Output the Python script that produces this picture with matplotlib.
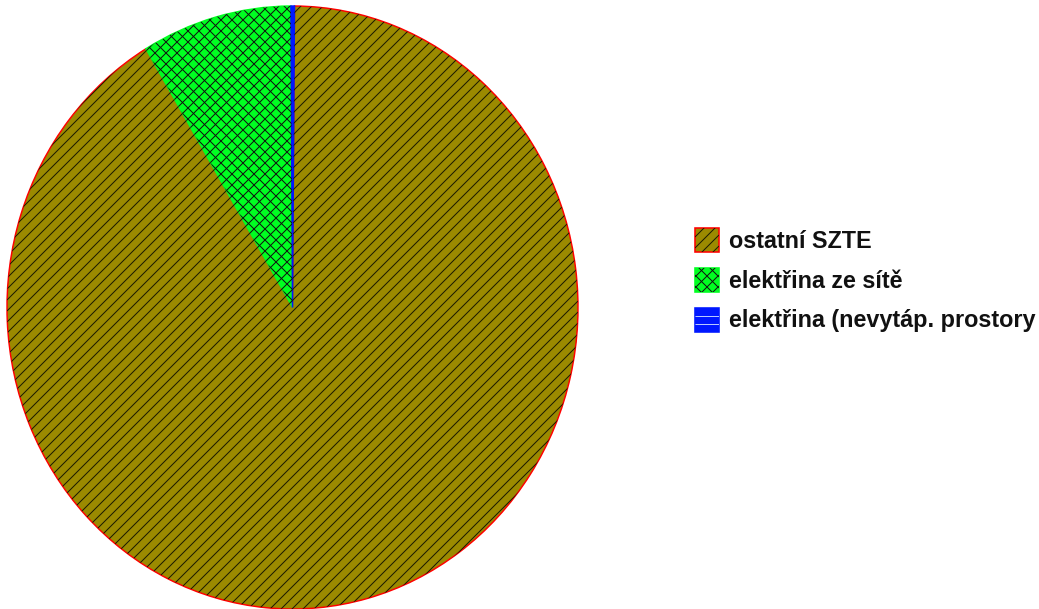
import numpy as np
import matplotlib
matplotlib.use("Agg")
import matplotlib.pyplot as plt
from matplotlib.patches import Rectangle
from matplotlib.collections import LineCollection
from matplotlib.transforms import IdentityTransform

# data
labels = ["ostatní SZTE", "elektřina ze sítě", "elektřina (nevytáp. prostory"]
shares = [91.3, 8.5, 0.2]

# style
faces = ["#9b8a00", "#00ff21", "#0017ff"]
edges = ["#ff0000", "#00ff21", "#0017ff"]
hatches = ["/", "x", "-"]
hatch_cols = ["#1a1a00", "#101010", "#b8c8ff"]

DPI = 66
W, H = 1039, 609
plt.rcParams["font.family"] = ["Liberation Sans", "DejaVu Sans"]


def hatch_segments(x0, y0, x1, y1, kind, step, off=0.0):
    # hatch lines in display pixels covering the box (x0, y0)-(x1, y1)
    segs = []
    if kind in ("/", "x"):
        for c in np.arange(y0 - x1 + off, y1 - x0 + step, step):
            segs.append([(x0, x0 + c), (x1, x1 + c)])
    if kind in ("\\", "x"):
        for c in np.arange(y0 + x0 + off, y1 + x1 + step, step):
            segs.append([(x0, c - x0), (x1, c - x1)])
    if kind == "-":
        for c in np.arange(y0 + off, y1, step):
            segs.append([(x0, c), (x1, c)])
    return segs


def add_hatch(fig, clip, box, kind, color, step, off=0.0):
    lc = LineCollection(hatch_segments(*box, kind, step, off), colors=color,
                        linewidths=72 / DPI, transform=IdentityTransform(),
                        zorder=5)
    fig.add_artist(lc)
    lc.set_clip_path(clip)


fig = plt.figure(figsize=(W / DPI, H / DPI), dpi=DPI, facecolor="white")
# pie is slightly taller than wide in the reference
ax = fig.add_axes([7 / W, 1 - 609 / H, 571 / W, 603 / H])

wedges, _ = ax.pie(shares, colors=faces, startangle=89.6, counterclock=False,
                   radius=1, frame=True, wedgeprops=dict(linewidth=1.6))
ax.set_aspect("auto")
ax.set_xlim(-1, 1)
ax.set_ylim(-1, 1)
ax.set_axis_off()

fig.canvas.draw()
bb = ax.bbox
for w, ec, ht, hc in zip(wedges, edges, hatches, hatch_cols):
    w.set_edgecolor(ec)
    if ht != "-":
        add_hatch(fig, w, (bb.x0, bb.y0, bb.x1, bb.y1), ht, hc, 11)

# legend drawn by hand so the hatches match
fs_px = 23.4
row_y = 240
row_gap = 40
box = 24
for i, (lab, fc, ec, ht, hc) in enumerate(zip(labels, faces, edges, hatches, hatch_cols)):
    yc = row_y + i * row_gap
    x0, y0 = 695, H - (yc + box / 2)
    rect = Rectangle((x0, y0), box, box, facecolor=fc, edgecolor=ec,
                     linewidth=1.6 * 72 / DPI, transform=IdentityTransform(),
                     zorder=4)
    fig.add_artist(rect)
    if ht == "-":
        add_hatch(fig, rect, (x0, y0 + 8, x0 + box, y0 + box), ht, hc, 8)
    else:
        add_hatch(fig, rect, (x0, y0, x0 + box, y0 + box), ht, hc, 11, 6)
    fig.text(729 / W, 1 - (yc + 1) / H, lab, va="center", ha="left",
             fontsize=fs_px * 72 / DPI, fontweight="bold", color="#111111")

fig.savefig("out.png", dpi=DPI, facecolor="white")
